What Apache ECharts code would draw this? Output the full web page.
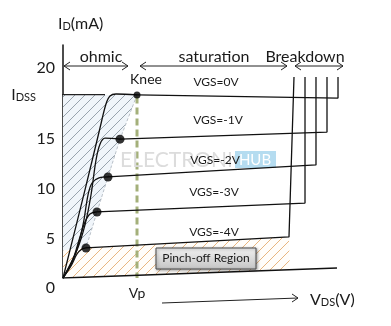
<!DOCTYPE html>
<html><head><meta charset="utf-8">
<script src="https://cdn.jsdelivr.net/npm/echarts@6/dist/echarts.min.js"></script>
<style>html,body{margin:0;padding:0;background:#fff}#c{width:391px;height:326px}</style>
</head><body><div id="c"></div>
<script>
// ---- Data (x: V_DS in diagram units, y: I_D in mA) ----
const curveNames = ['VGS=0V', 'VGS=-1V', 'VGS=-2V', 'VGS=-3V', 'VGS=-4V'];
const ohmicVgs0 = [[0,0],[7.33,8.88],[12.33,15.13],[14.33,17.55],[15.67,18.36],[17.67,18.56],[24.67,18.46]];
const ohmicVgs1 = [[0,0],[4.67,2.82],[7.33,5.35],[9.33,8.37],[11,11.9],[12.33,13.5],[14,14.1],[19,14.0]];
const ohmicVgs2 = [[0,0],[4,2.32],[6.67,5.35],[8.33,8.37],[9.67,9.58],[12,10.09],[15,10.19]];
const ohmicVgs3 = [[0,0],[3,1.61],[5.67,4.14],[7.33,5.65],[9,6.45],[11.33,6.66]];
const ohmicVgs4 = [[0,0],[2.67,1.21],[4.67,2.42],[6.33,2.92],[7.67,3.03]];
const satVgs0 = [[24.67,18.46],[91.67,18.15],[91.67,20.27]];
const satVgs1 = [[19,14.0],[88,14.72],[88,20.27]];
const satVgs2 = [[15,10.19],[84.33,11.4],[84.33,20.27]];
const satVgs3 = [[11.33,6.66],[80.67,7.56],[80.67,20.27]];
const satVgs4 = [[7.67,3.03],[75.33,4.14],[77,20.27]];
const kneePoints = [[24.67,18.46],[19,14.0],[15,10.19],[11.33,6.66],[7.67,3.03]];
const cutoffLine = [[0,0],[91.33,1.01]];
const vp = 24.67;
const idss = 18.5;
const vpLine = [[vp,18.3],[vp,0]];
const idssLine = [[-5.33,idss],[14,idss]];
const ohmicRegion = [[0,18.46],[24.67,18.46],[19,14.0],[15,10.19],[11.33,6.66],[7.67,3.03],[0,2.8]];
const pinchRegion = [[0,2.8],[7.67,3.03],[75.33,4.14],[75.6,0.84],[0,0]];
const yTickValues = [0,5,10,15,idss,20];
const yTickLabels = ['0','5','10','15','IDSS','20'];

function hatch(bg, line) {
  const c = document.createElement('canvas');
  c.width = 10; c.height = 10;
  const g = c.getContext('2d');
  g.fillStyle = bg; g.fillRect(0,0,10,10);
  g.strokeStyle = line; g.lineWidth = 1;
  g.beginPath();
  g.moveTo(0,10); g.lineTo(10,0);
  g.moveTo(-1,1); g.lineTo(1,-1);
  g.moveTo(9,11); g.lineTo(11,9);
  g.stroke();
  return {image: c, repeat: 'repeat'};
}
const blueHatch = hatch('#f0f5fa', '#98a3ad');
const orangeHatch = hatch('#fffdfa', '#e8b680');

const FONT = 'Lato';
const black = '#111';
const ohmics = [ohmicVgs0, ohmicVgs1, ohmicVgs2, ohmicVgs3, ohmicVgs4];
const sats = [satVgs0, satVgs1, satVgs2, satVgs3, satVgs4];

const series = [];
series.push({
  type: 'custom', z: 1, silent: true,
  data: [0, 1],
  renderItem: (params, api) => {
    const poly = params.dataIndex === 0 ? ohmicRegion : pinchRegion;
    return {type: 'polygon', shape: {points: poly.map(p => api.coord(p))},
      style: {fill: params.dataIndex === 0 ? blueHatch : orangeHatch, stroke: null}};
  }
});
series.push({type:'line', data: kneePoints, symbol:'none', z:2, lineStyle:{color:'#b9c0c8', width:1, type:[3,2]}});
series.push({type:'line', data: vpLine, symbol:'none', z:3, lineStyle:{color:'#a4b07a', width:3, type:[7,4]}});
ohmics.forEach((d,i) => series.push({type:'line', name: curveNames[i], data:d, smooth:0.35, symbol:'none', z:5, lineStyle:{color:black, width:1.3}}));
sats.forEach((d,i) => series.push({type:'line', name: curveNames[i], data:d, symbol:'none', z:5, lineStyle:{color:black, width:1.3}}));
series.push({type:'line', data: cutoffLine, symbol:'none', z:5, lineStyle:{color:black, width:1.3}});
series.push({type:'line', data: idssLine, symbol:'none', z:5, clip:false, lineStyle:{color:'#222', width:1.3}});
series.push({type:'scatter', data: kneePoints, z:6, symbolSize: (v, p) => p.dataIndex === 0 ? 7 : 9, itemStyle:{color:'#000'}});

function arrowHead(x, y, dir) {
  return {type:'polyline', shape:{points:[[x - 6*dir, y - 4],[x, y],[x - 6*dir, y + 4]]}, style:{stroke:'#222', lineWidth:1, fill:null}};
}
function hArrow(x1, x2, y, left, right) {
  const els = [{type:'line', shape:{x1, y1:y, x2, y2:y}, style:{stroke:'#222', lineWidth:1}}];
  if (left) els.push(arrowHead(x1, y, -1));
  if (right) els.push(arrowHead(x2, y, 1));
  return els;
}
const txt = (x, y, text, size, align, extra) => Object.assign({type:'text', x, y, z:20,
  style:{text, fontFamily:FONT, fontSize:size, fill:'#1a1a1a', align: align || 'center', verticalAlign:'middle'}}, extra || {});

const graphics = [
  // watermark
  {type:'text', x:120, y:160, z:4, style:{text:'ELECTRONICS', fontFamily:FONT, fontSize:21, fill:'#dcdcdc', align:'left', verticalAlign:'middle'}},
  {type:'rect', shape:{x:235, y:151, width:41, height:17}, z:4, style:{fill:'#b5dcf0'}},
  {type:'text', x:255, y:160, z:4, style:{text:'HUB', fontFamily:FONT, fontSize:15, fill:'#fff', align:'center', verticalAlign:'middle'}},
  txt(58, 24, '{a|I}{b|D}{a|(mA)}', 15, 'left', {style:{text:'{a|I}{b|D}{a|(mA)}', align:'left', verticalAlign:'middle',
    rich:{a:{fontFamily:FONT, fontSize:16, fill:'#1a1a1a', verticalAlign:'bottom'}, b:{fontFamily:FONT, fontSize:11, fill:'#1a1a1a', verticalAlign:'bottom'}}}}),
  txt(101, 57, 'ohmic', 16),
  txt(214, 57, 'saturation', 16),
  txt(305, 57, 'Breakdown', 16),
  ...hArrow(64, 128, 66, true, true),
  ...hArrow(140, 287, 66, true, true),
  ...hArrow(295, 343, 66, true, true),
  txt(146, 79, 'Knee', 14),
  txt(216, 82, curveNames[0], 12),
  txt(218, 120, curveNames[1], 12),
  txt(215, 160, curveNames[2], 12),
  txt(214, 192, curveNames[3], 12),
  txt(214, 232, curveNames[4], 12),
  {type:'rect', z:19, shape:{x:156, y:248, width:100, height:21},
    style:{fill:new echarts.graphic.LinearGradient(0,0,0,1,[{offset:0,color:'#f2f2f2'},{offset:1,color:'#c4c4c4'}]),
      stroke:'#4a4a4a', lineWidth:1, shadowBlur:3, shadowOffsetX:1, shadowOffsetY:1, shadowColor:'rgba(0,0,0,0.35)'}},
  txt(206, 258.5, 'Pinch-off Region', 12),
  {type:'line', shape:{x1:162, y1:303, x2:298, y2:298}, style:{stroke:'#222', lineWidth:1}},
  {type:'polyline', shape:{points:[[292,294],[298,298],[292,302]]}, style:{stroke:'#222', lineWidth:1, fill:null}},
  {type:'text', x:310, y:300, z:20, style:{text:'{a|V}{b|DS}{a|(V)}', align:'left', verticalAlign:'middle',
    rich:{a:{fontFamily:FONT, fontSize:16, fill:'#1a1a1a', verticalAlign:'bottom'}, b:{fontFamily:FONT, fontSize:11, fill:'#1a1a1a', verticalAlign:'bottom'}}}}
];

const chart = echarts.init(document.getElementById('c'), null, {renderer:'canvas'});
chart.setOption({
  animation: false,
  grid: {left:63, right:28, top:45, bottom:48},
  xAxis: {type:'value', min:0, max:100, axisLine:{show:false}, axisTick:{show:false}, splitLine:{show:false},
    axisLabel:{customValues:[vp], formatter: () => 'Vp', fontFamily:FONT, fontSize:14, color:'#1a1a1a', margin:8}},
  yAxis: {type:'value', min:0, max:23.5, axisLine:{show:true, lineStyle:{color:'#111', width:1.5}}, axisTick:{show:false}, splitLine:{show:false},
    axisLabel:{customValues: yTickValues, margin:8, fontFamily:FONT, fontSize:16, color:'#1a1a1a',
      formatter: (v) => {
        const i = yTickValues.indexOf(v);
        const t = yTickLabels[i];
        if (t === 'IDSS') return '{i|I}{s|DSS}';
        if (t === '20') return '{up|' + t + '}';
        return '{dn|' + t + '}';
      },
      rich: {
        dn:{fontFamily:FONT, fontSize:16, color:'#1a1a1a', padding:[20,0,0,0]},
        up:{fontFamily:FONT, fontSize:16, color:'#1a1a1a', padding:[0,0,23,0]},
        i:{fontFamily:FONT, fontSize:16, color:'#1a1a1a', verticalAlign:'bottom'},
        s:{fontFamily:FONT, fontSize:11, color:'#1a1a1a', verticalAlign:'bottom', padding:[0,19,0,0]}
      }}},
  series,
  graphic: graphics
});
</script></body></html>
